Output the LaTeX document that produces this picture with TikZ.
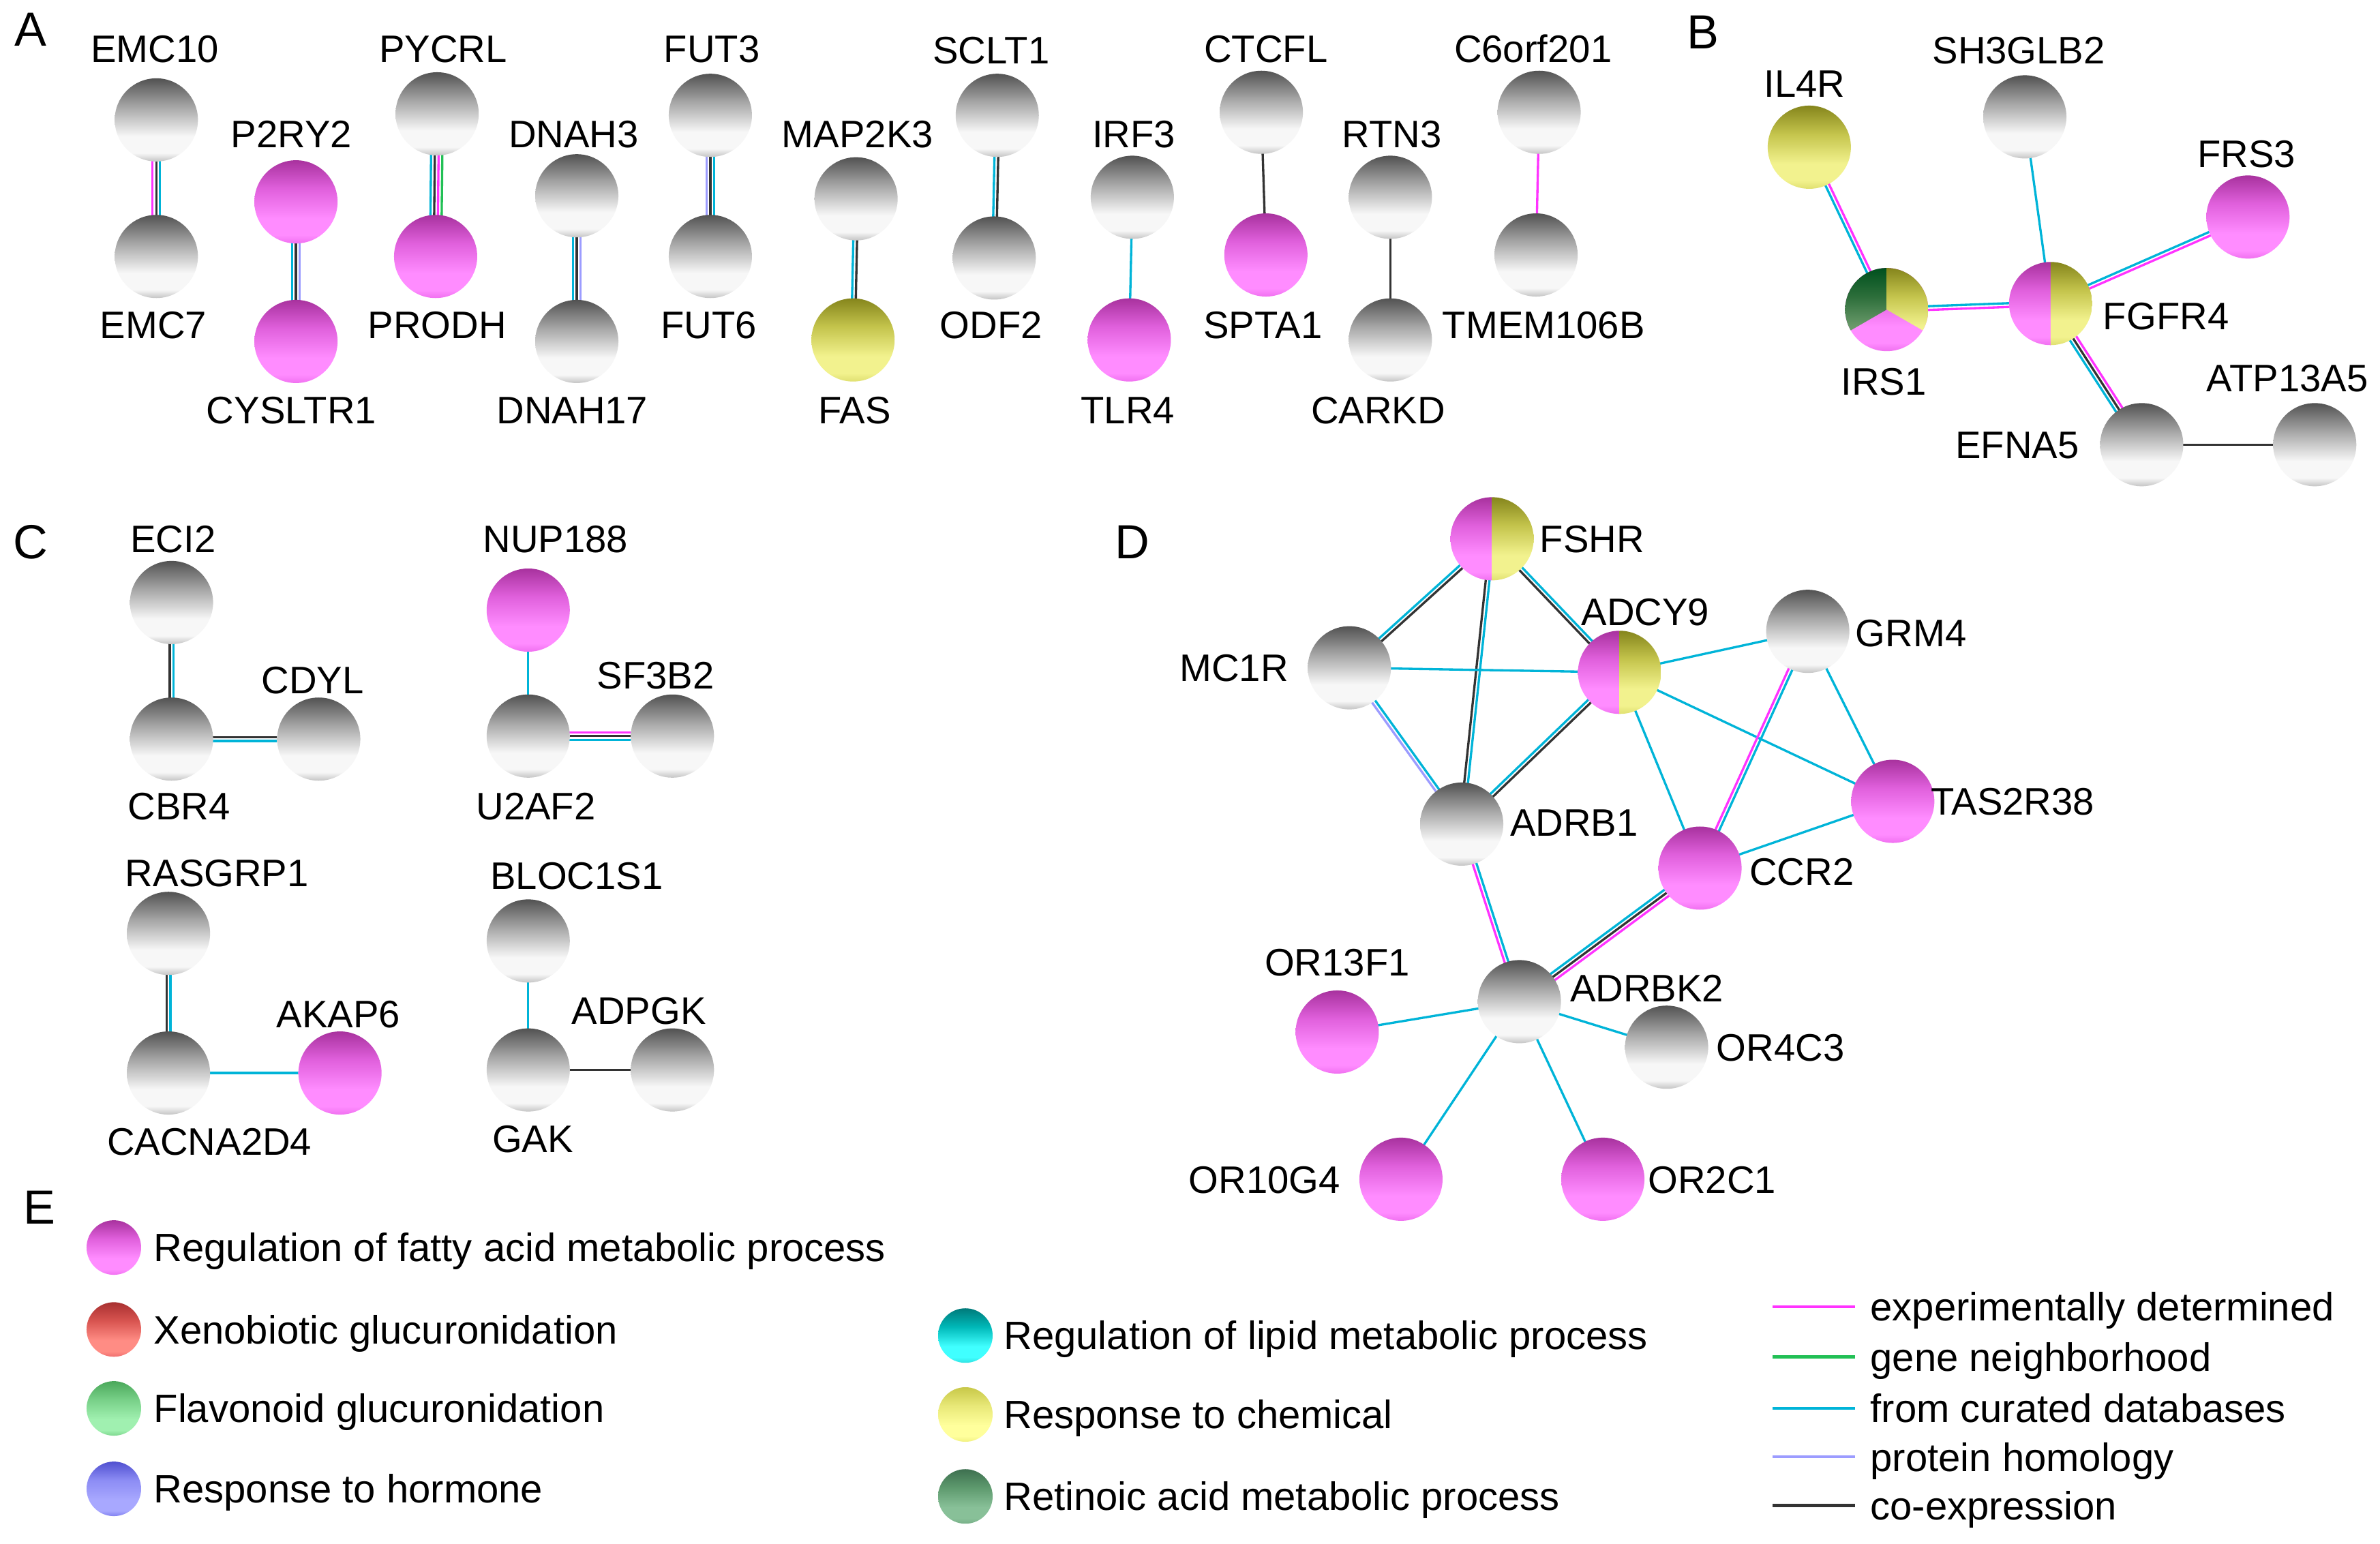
\documentclass[tikz,border=0pt]{standalone}
\usepackage{fontspec}
\setmainfont{Liberation Sans}
\usetikzlibrary{calc}
\pgfdeclarelayer{background}
\pgfsetlayers{background,main}
\newcommand\labfont{\fontsize{16}{19}\selectfont}
\newcommand\legfont{\fontsize{16.5}{19}\selectfont}
\newcommand\letfont{\fontsize{20}{24}\selectfont}
\newcommand\defball[5]{%
 \definecolor{#1T}{HTML}{#2}\definecolor{#1M}{HTML}{#3}\definecolor{#1H}{HTML}{#4}\definecolor{#1R}{HTML}{#5}%
 \pgfdeclareverticalshading{#1}{100bp}{color(0bp)=(#1R); color(25bp)=(#1R); color(30bp)=(#1H); color(40bp)=(#1H); color(58bp)=(#1M); color(75bp)=(#1T); color(100bp)=(#1T)}}
\defball{graysh}{525252}{A6A6A6}{F7F7F7}{C4C4C4}
\defball{magsh}{A8329E}{E060DC}{FF8CFF}{F070F0}
\defball{yelsh}{85851C}{C4C44C}{F2F28E}{E0E070}
\defball{grnsh}{00501E}{2C6E3A}{6A9A6A}{5A905A}
\defball{redsh}{A83030}{D85450}{FF8C84}{F07070}
\defball{lgrsh}{4AA85A}{78D088}{A0F0B0}{80D890}
\defball{blush}{5050D0}{8C8CF4}{A8A8FF}{8080F0}
\defball{tealsh}{007A7A}{00B8B8}{40FFFF}{30E0E0}
\defball{lyelsh}{C8C848}{E8E878}{FFFF9C}{F0F080}
\defball{retsh}{3E7050}{5E9A6E}{88C098}{78B088}
\definecolor{emag}{HTML}{FF33FF}
\definecolor{ecyan}{HTML}{00B4D8}
\definecolor{egreen}{HTML}{22C055}
\definecolor{elav}{HTML}{9C9CFF}
\definecolor{eblack}{HTML}{333333}
\def\ballr{0.61cm}
\newcommand\medge[3]{%
 \begin{pgfonlayer}{background}
 \foreach \cc [count=\ii] in {#3} {\xdef\nlines{\ii}}%
 \foreach \cc [count=\ii] in {#3} {%
   \pgfmathsetmacro\off{(\ii-(\nlines+1)/2)*0.055}%
   \draw[\cc, eline] ($(#1)!\off cm!90:(#2)$) -- ($(#2)!\off cm!-90:(#1)$);
 }%
 \end{pgfonlayer}}
\newcommand\splitball[1]{%
 \begin{scope}
  \clip (#1.center) circle[radius=\ballr];
  \shade[shading=magsh] ($(#1.center)+(-\ballr,-\ballr)$) rectangle ($(#1.center)+(0pt,\ballr)$);
  \shade[shading=yelsh] ($(#1.center)+(0pt,-\ballr)$) rectangle ($(#1.center)+(\ballr,\ballr)$);
 \end{scope}}
\newcommand\pieball[1]{%
 \begin{scope}
  \clip (#1.center) circle[radius=\ballr];
  \shade[shading=magsh] ($(#1.center)+(-\ballr,-\ballr)$) rectangle ($(#1.center)+(\ballr,\ballr)$);
  \begin{scope}
   \clip (#1.center) -- ($(#1.center)+(90:1cm)$) -- ($(#1.center)+(150:1.6cm)$) -- ($(#1.center)+(210:1cm)$) -- cycle;
   \shade[shading=grnsh] ($(#1.center)+(-\ballr,-\ballr)$) rectangle ($(#1.center)+(\ballr,\ballr)$);
  \end{scope}
  \begin{scope}
   \clip (#1.center) -- ($(#1.center)+(90:1cm)$) -- ($(#1.center)+(30:1.6cm)$) -- ($(#1.center)+(-30:1cm)$) -- cycle;
   \shade[shading=yelsh] ($(#1.center)+(-\ballr,-\ballr)$) rectangle ($(#1.center)+(\ballr,\ballr)$);
  \end{scope}
 \end{scope}}
\begin{document}
\begin{tikzpicture}[x=0.022264cm, y=-0.022264cm,
  ballbase/.style={circle, minimum size=1.22cm, inner sep=0pt, outer sep=0pt},
  gb/.style={ballbase, shade, shading=graysh},
  mb/.style={ballbase, shade, shading=magsh},
  yb/.style={ballbase, shade, shading=yelsh},
  sb/.style={ballbase},
  lball/.style={circle, minimum size=0.8cm, inner sep=0pt, shade},
  lab/.style={font=\labfont, inner sep=0pt, text height=11.5pt, text depth=0pt},
  ltxt/.style={font=\legfont, inner sep=0pt, text height=11.8pt, text depth=0pt, anchor=west},
  letter/.style={font=\letfont, inner sep=0pt, text height=14.3pt, text depth=0pt},
  eline/.style={line width=0.95pt},
  legline/.style={line width=1.2pt}]
\begin{pgfonlayer}{background}
\fill[white] (0,0) rectangle (1568,1017.3);
\end{pgfonlayer}
\useasboundingbox (0,0) rectangle (1568,1017.3);

% panel letters
\node[letter] (LA) at (20,19) {A};
\node[letter] (LB) at (1122,21) {B};
\node[letter] (LC) at (20,357) {C};
\node[letter] (LD) at (746,357) {D};
\node[letter] (LE) at (26,795) {E};

% ---------- panel A ----------
\node[gb] (EMC10) at (103,79) {};      \node[lab] (EMC10t) at (102,32) {EMC10};
\node[gb] (EMC7) at (103,169) {};      \node[lab] (EMC7t) at (101,214) {EMC7};
\node[mb] (P2RY2) at (195,133) {};     \node[lab] (P2RY2t) at (192,88) {P2RY2};
\node[mb] (CYSLTR1) at (195,225) {};   \node[lab] (CYSLTR1t) at (192,270) {CYSLTR1};
\node[gb] (PYCRL) at (288,75) {};      \node[lab] (PYCRLt) at (292,32) {PYCRL};
\node[mb] (PRODH) at (287,169) {};     \node[lab] (PRODHt) at (288,214) {PRODH};
\node[gb] (DNAH3) at (380,129) {};     \node[lab] (DNAH3t) at (378,88) {DNAH3};
\node[gb] (DNAH17) at (380,225) {};    \node[lab] (DNAH17t) at (377,270) {DNAH17};
\node[gb] (FUT3) at (468,76) {};       \node[lab] (FUT3t) at (469,32) {FUT3};
\node[gb] (FUT6) at (468,169) {};      \node[lab] (FUT6t) at (467,214) {FUT6};
\node[gb] (MAP2K3) at (564,131) {};    \node[lab] (MAP2K3t) at (565,88) {MAP2K3};
\node[yb] (FAS) at (562,224) {};       \node[lab] (FASt) at (563,270) {FAS};
\node[gb] (SCLT1) at (657,76) {};      \node[lab] (SCLT1t) at (653,33) {SCLT1};
\node[gb] (ODF2) at (655,170) {};      \node[lab] (ODF2t) at (653,214) {ODF2};
\node[gb] (IRF3) at (746,130) {};      \node[lab] (IRF3t) at (747,88) {IRF3};
\node[mb] (TLR4) at (744,224) {};      \node[lab] (TLR4t) at (743,270) {TLR4};
\node[gb] (CTCFL) at (831,74) {};      \node[lab] (CTCFLt) at (834,32) {CTCFL};
\node[mb] (SPTA1) at (834,168) {};     \node[lab] (SPTA1t) at (832,214) {SPTA1};
\node[gb] (RTN3) at (916,130) {};      \node[lab] (RTN3t) at (917,88) {RTN3};
\node[gb] (CARKD) at (916,224) {};     \node[lab] (CARKDt) at (908,270) {CARKD};
\node[gb] (C6orf201) at (1014,74) {};  \node[lab] (C6orf201t) at (1010,32) {C6orf201};
\node[gb] (TMEM106B) at (1012,168) {}; \node[lab] (TMEM106Bt) at (1017,214) {TMEM106B};

\medge{EMC10}{EMC7}{emag,eblack,ecyan}
\medge{P2RY2}{CYSLTR1}{ecyan,eblack,elav}
\medge{PYCRL}{PRODH}{ecyan,eblack,emag,egreen}
\medge{DNAH3}{DNAH17}{ecyan,eblack,elav}
\medge{FUT3}{FUT6}{elav,eblack,ecyan}
\medge{MAP2K3}{FAS}{ecyan,eblack}
\medge{SCLT1}{ODF2}{ecyan,eblack}
\medge{IRF3}{TLR4}{ecyan}
\medge{CTCFL}{SPTA1}{eblack}
\medge{RTN3}{CARKD}{eblack}
\medge{C6orf201}{TMEM106B}{emag}

% ---------- panel B ----------
\node[yb] (IL4R) at (1192,97) {};      \node[lab] (IL4Rt) at (1189,55) {IL4R};
\node[gb] (SH3GLB2) at (1334,77) {};   \node[lab] (SH3GLB2t) at (1330,33) {SH3GLB2};
\node[mb] (FRS3) at (1481,143) {};     \node[lab] (FRS3t) at (1480,101) {FRS3};
\node[sb] (IRS1) at (1243,204) {};     \node[lab] (IRS1t) at (1241,251) {IRS1};
\node[sb] (FGFR4) at (1351,200) {};    \node[lab] (FGFR4t) at (1427,208) {FGFR4};
\node[gb] (EFNA5) at (1411,293) {};    \node[lab] (EFNA5t) at (1329,293) {EFNA5};
\node[gb] (ATP13A5) at (1525,293) {};  \node[lab] (ATP13A5t) at (1507,249) {ATP13A5};
\pieball{IRS1}
\splitball{FGFR4}

\medge{IL4R}{IRS1}{ecyan,emag}
\medge{IRS1}{FGFR4}{emag,ecyan}
\medge{SH3GLB2}{FGFR4}{ecyan}
\medge{FGFR4}{FRS3}{emag,ecyan}
\medge{FGFR4}{EFNA5}{ecyan,eblack,emag}
\medge{EFNA5}{ATP13A5}{eblack}

% ---------- panel C ----------
\node[gb] (ECI2) at (113,397) {};      \node[lab] (ECI2t) at (114,355) {ECI2};
\node[gb] (CBR4) at (113,487) {};      \node[lab] (CBR4t) at (118,531) {CBR4};
\node[gb] (CDYL) at (210,487) {};      \node[lab] (CDYLt) at (206,448) {CDYL};
\node[mb] (NUP188) at (348,402) {};    \node[lab] (NUP188t) at (366,355) {NUP188};
\node[gb] (U2AF2) at (348,485) {};     \node[lab] (U2AF2t) at (353,531) {U2AF2};
\node[gb] (SF3B2) at (443,485) {};     \node[lab] (SF3B2t) at (432,445) {SF3B2};
\node[gb] (RASGRP1) at (111,615) {};   \node[lab] (RASGRP1t) at (143,575) {RASGRP1};
\node[gb] (CACNA2D4) at (111,707) {};  \node[lab] (CACNA2D4t) at (138,752) {CACNA2D4};
\node[mb] (AKAP6) at (224,707) {};     \node[lab] (AKAP6t) at (223,668) {AKAP6};
\node[gb] (BLOC1S1) at (348,620) {};   \node[lab] (BLOC1S1t) at (380,577) {BLOC1S1};
\node[gb] (GAK) at (348,705) {};       \node[lab] (GAKt) at (351,750) {GAK};
\node[gb] (ADPGK) at (443,705) {};     \node[lab] (ADPGKt) at (421,666) {ADPGK};

\medge{ECI2}{CBR4}{eblack,ecyan}
\medge{CBR4}{CDYL}{ecyan,eblack}
\medge{NUP188}{U2AF2}{ecyan}
\medge{U2AF2}{SF3B2}{ecyan,eblack,emag}
\medge{RASGRP1}{CACNA2D4}{eblack,ecyan}
\medge{CACNA2D4}{AKAP6}{ecyan}
\medge{BLOC1S1}{GAK}{ecyan}
\medge{GAK}{ADPGK}{eblack}

% ---------- panel D ----------
\node[sb] (FSHR) at (983,355) {};      \node[lab] (FSHRt) at (1049,355) {FSHR};
\node[sb] (ADCY9) at (1067,443) {};    \node[lab] (ADCY9t) at (1084,403) {ADCY9};
\node[gb] (MC1R) at (889,440) {};      \node[lab] (MC1Rt) at (813,440) {MC1R};
\node[gb] (GRM4) at (1191,416) {};     \node[lab] (GRM4t) at (1259,417) {GRM4};
\node[gb] (ADRB1) at (963,543) {};     \node[lab] (ADRB1t) at (1037,542) {ADRB1};
\node[mb] (TAS2R38) at (1247,528) {};  \node[lab] (TAS2R38t) at (1326,528) {TAS2R38};
\node[mb] (CCR2) at (1120,572) {};     \node[lab] (CCR2t) at (1187,574) {CCR2};
\node[gb] (ADRBK2) at (1001,660) {};   \node[lab] (ADRBK2t) at (1085,651) {ADRBK2};
\node[mb] (OR13F1) at (881,680) {};    \node[lab] (OR13F1t) at (881,634) {OR13F1};
\node[gb] (OR4C3) at (1098,690) {};    \node[lab] (OR4C3t) at (1173,690) {OR4C3};
\node[mb] (OR10G4) at (923,777) {};    \node[lab] (OR10G4t) at (833,777) {OR10G4};
\node[mb] (OR2C1) at (1056,777) {};    \node[lab] (OR2C1t) at (1128,777) {OR2C1};
\splitball{FSHR}
\splitball{ADCY9}

\medge{FSHR}{MC1R}{ecyan,eblack}
\medge{FSHR}{ADRB1}{eblack,ecyan}
\medge{FSHR}{ADCY9}{eblack,ecyan}
\medge{MC1R}{ADCY9}{ecyan}
\medge{MC1R}{ADRB1}{elav,ecyan}
\medge{ADCY9}{ADRB1}{ecyan,eblack}
\medge{ADCY9}{GRM4}{ecyan}
\medge{ADCY9}{CCR2}{ecyan}
\medge{ADCY9}{TAS2R38}{ecyan}
\medge{GRM4}{CCR2}{emag,ecyan}
\medge{GRM4}{TAS2R38}{ecyan}
\medge{TAS2R38}{CCR2}{ecyan}
\medge{ADRB1}{ADRBK2}{emag,ecyan}
\medge{CCR2}{ADRBK2}{ecyan,eblack,emag}
\medge{ADRBK2}{OR13F1}{ecyan}
\medge{ADRBK2}{OR4C3}{ecyan}
\medge{ADRBK2}{OR10G4}{ecyan}
\medge{ADRBK2}{OR2C1}{ecyan}

% ---------- legend E ----------
\node[lball, shading=magsh] (lg1) at (75,822) {};   \node[ltxt] (lt1) at (101,822) {Regulation of fatty acid metabolic process};
\node[lball, shading=redsh] (lg2) at (75,876) {};   \node[ltxt] (lt2) at (101,876) {Xenobiotic glucuronidation};
\node[lball, shading=lgrsh] (lg3) at (75,928) {};   \node[ltxt] (lt3) at (101,928) {Flavonoid glucuronidation};
\node[lball, shading=blush] (lg4) at (75,981) {};   \node[ltxt] (lt4) at (101,981) {Response to hormone};
\node[lball, shading=tealsh] (lg5) at (636,880) {}; \node[ltxt] (lt5) at (661,880) {Regulation of lipid metabolic process};
\node[lball, shading=lyelsh] (lg6) at (636,932) {}; \node[ltxt] (lt6) at (661,932) {Response to chemical};
\node[lball, shading=retsh] (lg7) at (636,986) {};  \node[ltxt] (lt7) at (661,986) {Retinoic acid metabolic process};

\coordinate (e1a) at (1168,861); \coordinate (e1b) at (1222,861);
\coordinate (e2a) at (1168,894); \coordinate (e2b) at (1222,894);
\coordinate (e3a) at (1168,928); \coordinate (e3b) at (1222,928);
\coordinate (e4a) at (1168,960); \coordinate (e4b) at (1222,960);
\coordinate (e5a) at (1168,992); \coordinate (e5b) at (1222,992);
\draw[emag, legline] (e1a) -- (e1b);
\draw[egreen, legline] (e2a) -- (e2b);
\draw[ecyan, legline] (e3a) -- (e3b);
\draw[elav, legline] (e4a) -- (e4b);
\draw[eblack, legline] (e5a) -- (e5b);
\node[ltxt] (et1) at (1232,861) {experimentally determined};
\node[ltxt] (et2) at (1232,894) {gene neighborhood};
\node[ltxt] (et3) at (1232,928) {from curated databases};
\node[ltxt] (et4) at (1232,960) {protein homology};
\node[ltxt] (et5) at (1232,992) {co-expression};
\end{tikzpicture}
\end{document}
